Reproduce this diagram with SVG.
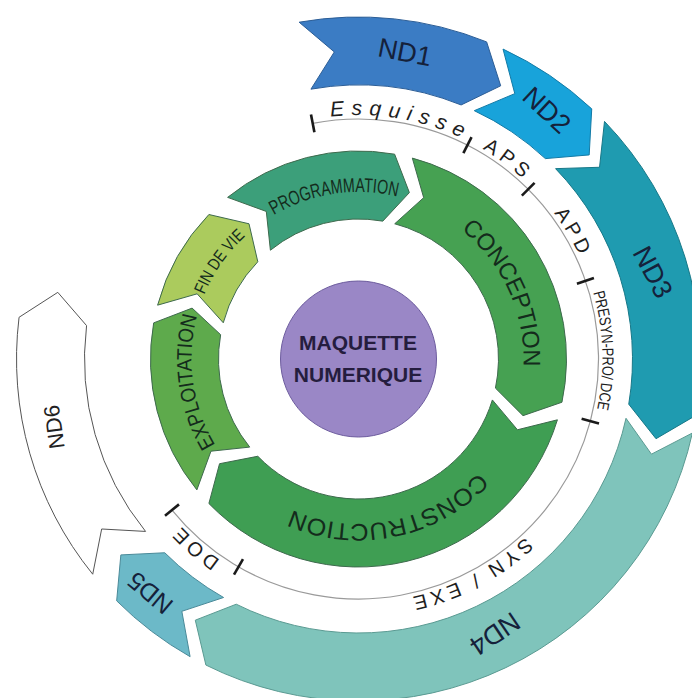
<svg xmlns="http://www.w3.org/2000/svg" width="692" height="698" viewBox="0 0 692 698">
<style>
.g{stroke:#3e6a4d;stroke-width:1}
.nd{stroke-width:1}
.gt{font-family:"Liberation Sans",Arial,sans-serif;fill:#142b1c;text-anchor:middle}
.pt{font-family:"Liberation Sans",Arial,sans-serif;fill:#1e1e1e;text-anchor:middle}
.ndt{font-family:"Liberation Sans",Arial,sans-serif;fill:#15213a;text-anchor:middle;font-size:27px}
.tick{stroke:#1a1a1a;stroke-width:2.6}
</style>
<defs>
<path id="arc244" d="M114.5,359 A244,244 0 0 1 602.5,359"/>
<path id="arc167" d="M191.5,359 A167,167 0 0 1 525.5,359"/>
<path id="arc165" d="M193.5,359 A165,165 0 0 1 523.5,359"/>
</defs>
<rect width="692" height="698" fill="#ffffff"/>

<g id="nd1">
<path class="nd" fill="#3b7cc4" stroke="#2b5d96" d="M299.13,22.20 A342,342 0 0 1 486.61,41.90 L500.70,85.80 L461.14,104.95 A274,274 0 0 0 310.93,89.16 L334.32,51.95 Z"/>
<text class="ndt" x="405" y="52" dy="0.35em" transform="rotate(11 405 52)">ND1</text>
</g>
<g id="nd2">
<path class="nd" fill="#18a3da" stroke="#127aa6" d="M503.03,49.05 A342,342 0 0 1 591.74,108.86 L589.19,154.92 L545.37,158.60 A274,274 0 0 0 474.29,110.67 L514.81,93.63 Z"/>
<text class="ndt" x="547" y="110" dy="0.35em" transform="rotate(43 547 110)">ND2</text>
</g>
<g id="nd3">
<path class="nd" fill="#1f9bb0" stroke="#177888" d="M604.50,121.41 A342,342 0 0 1 695.81,415.43 L656.00,438.71 L628.75,404.21 A274,274 0 0 0 555.59,168.65 L599.54,167.27 Z"/>
<text class="ndt" x="653" y="272" dy="0.35em" transform="rotate(62 653 272)">ND3</text>
</g>
<g id="nd4">
<path class="nd" fill="#7fc4bb" stroke="#5a9a92" d="M692.39,433.01 A342,342 0 0 1 205.90,665.06 L195.29,620.18 L236.24,604.20 A274,274 0 0 0 626.01,418.29 L651.44,454.17 Z"/>
<text class="ndt" x="495" y="634" dy="0.35em" transform="rotate(146 495 634)">ND4</text>
</g>
<g id="nd5">
<path class="nd" fill="#6cb9c8" stroke="#4a8a99" d="M190.10,656.68 A342,342 0 0 1 116.67,600.83 L120.85,554.92 L164.75,552.75 A274,274 0 0 0 223.58,597.49 L181.83,611.31 Z"/>
<text class="ndt" x="150" y="593" dy="0.35em" style="font-size:25px" transform="rotate(220 150 593)">ND5</text>
</g>
<g id="nd6">
<path class="nd" fill="#ffffff" stroke="#555555" d="M92.73,574.22 A342,342 0 0 1 19.06,317.31 L57.80,292.35 L86.55,325.60 A274,274 0 0 0 145.57,531.43 L101.66,528.99 Z"/>
<text class="ndt" x="54" y="427" dy="0.35em" style="font-size:22px;fill:#222" transform="rotate(262 54 427)">ND6</text>
</g>

<g id="timeline">
<path d="M312.71,123.42 A240,240 0 1 1 172.00,510.03" fill="none" stroke="#9a9a9a" stroke-width="1.2"/>
<line class="tick" x1="358.5" y1="128" x2="358.5" y2="110" transform="rotate(-11 358.5 359)"/>
<line class="tick" x1="358.5" y1="128" x2="358.5" y2="110" transform="rotate(27 358.5 359)"/>
<line class="tick" x1="358.5" y1="128" x2="358.5" y2="110" transform="rotate(45 358.5 359)"/>
<line class="tick" x1="358.5" y1="128" x2="358.5" y2="110" transform="rotate(71 358.5 359)"/>
<line class="tick" x1="358.5" y1="128" x2="358.5" y2="110" transform="rotate(105 358.5 359)"/>
<line class="tick" x1="358.5" y1="128" x2="358.5" y2="110" transform="rotate(210 358.5 359)"/>
<line class="tick" x1="358.5" y1="128" x2="358.5" y2="110" transform="rotate(231 358.5 359)"/>
<text class="pt" style="font-size:21px;font-style:italic;letter-spacing:7px" transform="rotate(10 358.5 359)"><textPath href="#arc244" startOffset="50%">Esquisse</textPath></text>
<text class="pt" style="font-size:20px;letter-spacing:5px" transform="rotate(37 358.5 359)"><textPath href="#arc244" startOffset="50%">APS</textPath></text>
<text class="pt" style="font-size:20px;letter-spacing:4px" transform="rotate(59.5 358.5 359)"><textPath href="#arc244" startOffset="50%">APD</textPath></text>
<text class="pt" style="font-size:16px" transform="rotate(88 358.5 359)"><textPath href="#arc244" startOffset="50%" textLength="118" lengthAdjust="spacingAndGlyphs">PRESYN-PRO/ DCE</textPath></text>
<text class="pt" style="font-size:20px;letter-spacing:4px" transform="rotate(152.5 358.5 359)"><textPath href="#arc244" startOffset="50%">SYN / EXE</textPath></text>
<text class="pt" style="font-size:20px;letter-spacing:4px" transform="rotate(221 358.5 359)"><textPath href="#arc244" startOffset="50%">DOE</textPath></text>
</g>

<g id="programmation">
<path class="g" fill="#3c9f7a" d="M227.61,197.36 A208,208 0 0 1 394.61,154.16 L409.38,192.60 L382.80,221.13 A140,140 0 0 0 270.40,250.21 L266.30,211.45 Z"/>
<text class="gt" style="font-size:20px" transform="rotate(-8.5 358.5 359)"><textPath href="#arc167" startOffset="50%" textLength="128" lengthAdjust="spacingAndGlyphs">PROGRAMMATION</textPath></text>
</g>
<g id="conception">
<path class="g" fill="#46a152" d="M412.33,158.09 A208,208 0 0 1 561.95,402.24 L523.02,415.65 L495.43,388.11 A140,140 0 0 0 394.73,223.77 L423.68,197.67 Z"/>
<text class="gt" style="font-size:24px" transform="rotate(65.5 358.5 359)"><textPath href="#arc165" startOffset="50%" textLength="156" lengthAdjust="spacingAndGlyphs">CONCEPTION</textPath></text>
</g>
<g id="construction">
<path class="g" fill="#3f9e53" d="M557.41,419.82 A208,208 0 0 1 208.89,503.50 L219.54,463.71 L257.80,456.26 A140,140 0 0 0 492.38,399.94 L517.45,429.77 Z"/>
<text class="gt" style="font-size:24px" transform="rotate(168.5 358.5 359)"><textPath href="#arc165" startOffset="50%" textLength="203" lengthAdjust="spacingAndGlyphs">CONSTRUCTION</textPath></text>
</g>
<g id="exploitation">
<path class="g" fill="#5eaa4c" d="M196.86,489.89 A208,208 0 0 1 153.66,322.89 L192.10,308.12 L220.63,334.70 A140,140 0 0 0 249.71,447.10 L210.95,451.20 Z"/>
<text class="gt" style="font-size:21px" transform="rotate(262 358.5 359)"><textPath href="#arc167" startOffset="50%" textLength="134" lengthAdjust="spacingAndGlyphs">EXPLOITATION</textPath></text>
</g>
<g id="fin-de-vie">
<path class="g" fill="#abcb5d" d="M157.59,305.17 A208,208 0 0 1 208.89,214.50 L249.00,223.78 L257.80,261.74 A140,140 0 0 0 223.27,322.77 L197.17,293.82 Z"/>
<text class="gt" style="font-size:17px" transform="rotate(305 358.5 359)"><textPath href="#arc167" startOffset="50%" textLength="72" lengthAdjust="spacingAndGlyphs">FIN DE VIE</textPath></text>
</g>

<g id="maquette-numerique">
<circle cx="358.5" cy="359" r="78" fill="#9a87c6" stroke="#6d5c9e" stroke-width="1"/>
<text x="358" y="350" text-anchor="middle" style="font-family:'Liberation Sans',Arial,sans-serif;font-weight:700;font-size:21px;fill:#251d3e">MAQUETTE</text>
<text x="358" y="382" text-anchor="middle" style="font-family:'Liberation Sans',Arial,sans-serif;font-weight:700;font-size:21px;fill:#251d3e">NUMERIQUE</text>
</g>
</svg>
